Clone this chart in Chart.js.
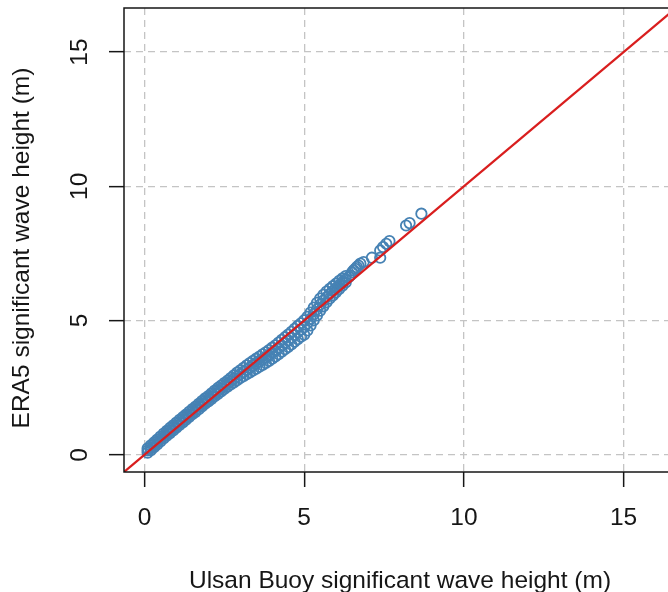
<!DOCTYPE html>
<html>
<head>
<meta charset="utf-8">
<title>Q-Q plot: Ulsan buoy vs ERA5 significant wave height</title>
<script src="https://cdn.jsdelivr.net/npm/chart.js@4.4.1/dist/chart.umd.min.js"></script>
<style>
  html, body { margin: 0; padding: 0; background: #ffffff; overflow: hidden; }
  #wrap { width: 700px; height: 592px; }
</style>
</head>
<body>
<div id="wrap"><canvas id="qq" width="700" height="592"></canvas></div>
<script>
// Buoy quantiles (m) along the dense part of the plot
const buoyQ = [0.1,0.2,0.3,0.4,0.5,0.6,0.7,0.8,0.9,1.0,1.1,1.2,1.3,1.4,1.5,1.6,1.7,1.8,1.9,2.0,
  2.1,2.2,2.3,2.4,2.5,2.6,2.7,2.8,2.9,3.0,3.1,3.2,3.3,3.4,3.5,3.6,3.7,3.8,3.9,4.0,
  4.1,4.2,4.3,4.4,4.5,4.6,4.7,4.8,4.9,5.0,5.1,5.2,5.3,5.4,5.5,5.6,5.7,5.8,5.9,6.0,
  6.1,6.2,6.3];
// ERA5 quantiles (m) paired with each buoy level: lowest, middle and highest of the tied run
const era5Lower = [0.08,0.17,0.28,0.39,0.5,0.61,0.71,0.81,0.91,1.01,1.11,1.21,1.31,1.41,1.51,1.6,1.7,1.8,1.9,1.99,
  2.08,2.18,2.27,2.36,2.45,2.54,2.62,2.7,2.78,2.86,2.93,3.0,3.07,3.14,3.21,3.28,3.35,3.42,3.5,3.58,
  3.66,3.75,3.84,3.93,4.02,4.11,4.21,4.31,4.4,4.47,4.63,4.82,5.01,5.19,5.37,5.53,5.68,5.82,5.94,6.06,
  6.18,6.3,6.42];
const era5Middle = [0.16,0.26,0.37,0.48,0.59,0.7,0.8,0.9,1.0,1.1,1.2,1.3,1.4,1.5,1.6,1.7,1.8,1.9,2.0,2.09,
  2.18,2.28,2.38,2.47,2.56,2.65,2.74,2.83,2.92,3.01,3.09,3.17,3.25,3.33,3.41,3.48,3.56,3.63,3.71,3.8,
  3.88,3.98,4.07,4.17,4.26,4.36,4.46,4.57,4.66,4.75,4.89,5.06,5.24,5.42,5.59,5.74,5.87,5.99,6.1,6.21,
  6.32,6.43,6.54];
const era5Upper = [0.24,0.35,0.46,0.57,0.68,0.79,0.89,1.0,1.1,1.2,1.3,1.4,1.5,1.6,1.7,1.8,1.9,2.0,2.1,2.19,
  2.29,2.39,2.49,2.58,2.67,2.76,2.86,2.96,3.06,3.15,3.24,3.33,3.42,3.5,3.58,3.66,3.74,3.82,3.9,3.99,
  4.08,4.18,4.28,4.38,4.48,4.58,4.69,4.8,4.9,5.01,5.14,5.3,5.48,5.66,5.82,5.96,6.08,6.18,6.28,6.38,
  6.48,6.57,6.66];
// Upper tail, where single quantile pairs separate
const tailBuoy = [6.40,6.44,6.50,6.55,6.60,6.65,6.70,6.76,6.86,7.12,7.38,7.38,7.47,7.57,7.67,8.19,8.30,8.67];
const tailEra5 = [6.62,6.68,6.80,6.87,6.93,6.99,7.05,7.12,7.18,7.34,7.34,7.61,7.74,7.86,7.96,8.54,8.63,8.98];

// 1:1 reference line
const refLine = [-1, 17];

const xTicks = [0, 5, 10, 15];
const yTicks = [0, 5, 10, 15];
const axisMin = -0.64, axisMax = 16.64;

const xTitle = 'Ulsan Buoy significant wave height (m)';
const yTitle = 'ERA5 significant wave height (m)';

const FONT = '"Liberation Sans", Arial, Helvetica, sans-serif';
const INK = '#161616';
const FONT_SIZE = 24.5;

const qqPoints = [];
buoyQ.forEach((b, i) => {
  qqPoints.push({ x: b, y: era5Lower[i] });
  qqPoints.push({ x: b, y: era5Middle[i] });
  qqPoints.push({ x: b, y: era5Upper[i] });
});
tailBuoy.forEach((b, i) => qqPoints.push({ x: b, y: tailEra5[i] }));

const linePoints = refLine.map(v => ({ x: v, y: v }));

// Box, rotated y labels and axis titles, in the style of a base R plot
const rFrame = {
  id: 'rFrame',
  afterDraw(chart) {
    const { ctx, chartArea: a, scales: { y } } = chart;
    ctx.save();
    ctx.strokeStyle = INK;
    ctx.lineWidth = 1.5;
    ctx.setLineDash([]);
    ctx.strokeRect(a.left, a.top, a.right - a.left, a.bottom - a.top);

    ctx.fillStyle = INK;
    ctx.font = FONT_SIZE + 'px ' + FONT;
    ctx.textAlign = 'center';
    ctx.textBaseline = 'alphabetic';
    y.ticks.forEach(t => {
      ctx.save();
      ctx.translate(87, y.getPixelForValue(t.value));
      ctx.rotate(-Math.PI / 2);
      ctx.fillText(String(t.value), 0, 0);
      ctx.restore();
    });

    ctx.save();
    ctx.translate(29, (a.top + a.bottom) / 2 + 8);
    ctx.rotate(-Math.PI / 2);
    ctx.fillText(yTitle, 0, 0);
    ctx.restore();

    ctx.fillText(xTitle, (a.left + a.right) / 2, 588);
    ctx.restore();
  }
};

const gridOpts = {
  color: '#c4c4c4',
  lineWidth: 1.3,
  drawTicks: true,
  tickLength: 15,
  tickColor: INK,
  tickWidth: 1.5,
  tickBorderDash: []
};

new Chart(document.getElementById('qq'), {
  type: 'scatter',
  data: {
    datasets: [
      {
        label: '1:1',
        data: linePoints,
        showLine: true,
        borderColor: '#d91e1e',
        borderWidth: 2.2,
        pointRadius: 0,
        fill: false,
        order: 0
      },
      {
        label: 'Q-Q',
        data: qqPoints,
        borderColor: '#4682b4',
        backgroundColor: 'rgba(0,0,0,0)',
        pointRadius: 5.2,
        pointBorderWidth: 1.8,
        borderWidth: 1.8,
        order: 1
      }
    ]
  },
  options: {
    responsive: false,
    animation: false,
    events: [],
    layout: { padding: { top: 8, right: 24, left: 0, bottom: 0 }, autoPadding: false },
    plugins: { legend: { display: false }, tooltip: { enabled: false } },
    scales: {
      x: {
        type: 'linear',
        min: axisMin,
        max: axisMax,
        afterFit(s) { s.height = 120; },
        afterBuildTicks(s) { s.ticks = xTicks.map(v => ({ value: v })); },
        grid: gridOpts,
        border: { display: false, dash: [7, 5] },
        ticks: { font: { size: FONT_SIZE, family: FONT }, color: INK, padding: 17, maxRotation: 0 }
      },
      y: {
        type: 'linear',
        min: axisMin,
        max: axisMax,
        afterFit(s) { s.width = 124; },
        afterBuildTicks(s) { s.ticks = yTicks.map(v => ({ value: v })); },
        grid: gridOpts,
        border: { display: false, dash: [7, 5] },
        ticks: { display: false }
      }
    }
  },
  plugins: [rFrame]
});
</script>
</body>
</html>
